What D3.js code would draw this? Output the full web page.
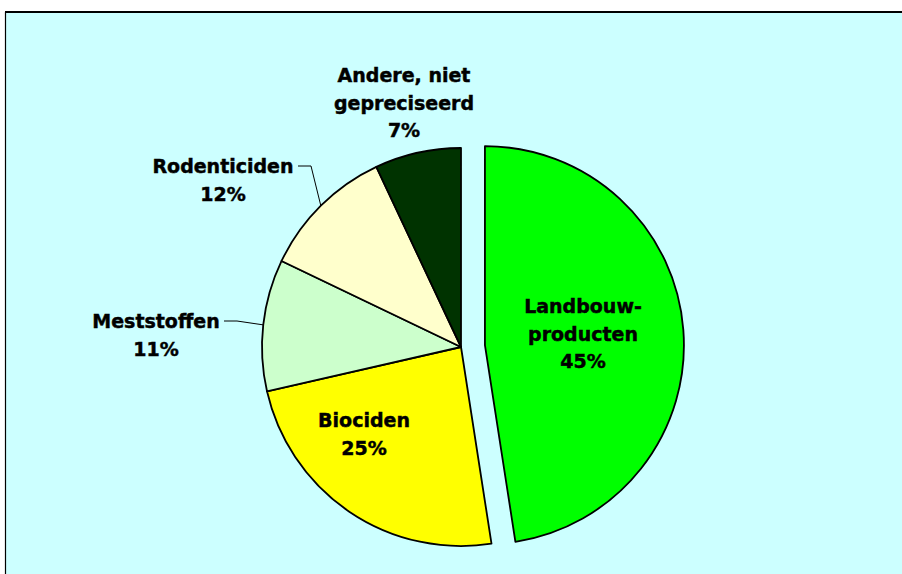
<!DOCTYPE html>
<html>
<head>
<meta charset="utf-8">
<script src="https://cdn.jsdelivr.net/npm/d3@7"></script>
<style>
  body { margin: 0; background: #ffffff; }
  svg { display: block; }
  .lbl { font-family: "DejaVu Sans", Verdana, sans-serif; font-weight: bold; font-size: 19px; fill: #000; stroke: #000; stroke-width: 0.45px; }
</style>
</head>
<body>
<div id="chart"></div>
<script>
var categories = ["Landbouwproducten", "Biociden", "Meststoffen", "Rodenticiden", "Andere, niet gepreciseerd"];
var labelLines = [["Landbouw-", "producten"], ["Biociden"], ["Meststoffen"], ["Rodenticiden"], ["Andere, niet", "gepreciseerd"]];
var percentLabels = ["45%", "25%", "11%", "12%", "7%"];
var shares = [47.6, 23.9, 10.7, 10.9, 7.0];
var colors = ["#00ff00", "#ffff00", "#ccffcc", "#ffffcc", "#003300"];

var width = 902, height = 574,
    cx = 461, cy = 347, radius = 199,
    explode = 24, lineGap = 27.5;

// label block placement, relative to the pie centre (x = centre of text, y = first baseline)
var labelPos = [
  {x: 122, y: -34, leader: false},
  {x: -97, y: 80, leader: false},
  {x: -305, y: -19, leader: true, hx: [-237, -224]},
  {x: -238, y: -174, leader: true, hx: [-163, -150]},
  {x: -57, y: -265, leader: false}
];

var svg = d3.select("#chart").append("svg")
    .attr("width", width)
    .attr("height", height);

// plot area
svg.append("rect")
    .attr("x", 5.5).attr("y", 12)
    .attr("width", width + 20).attr("height", height + 20)
    .attr("fill", "#ccffff");
svg.append("line")
    .attr("x1", 5.5).attr("x2", 5.5).attr("y1", 12).attr("y2", height)
    .attr("stroke", "#000").attr("stroke-width", 1.2);
svg.append("line")
    .attr("x1", 5).attr("x2", width).attr("y1", 12).attr("y2", 12)
    .attr("stroke", "#000").attr("stroke-width", 2);

var pie = d3.pie().sort(null).value(function (d) { return d; });
var arcs = pie(shares);
var arc = d3.arc().innerRadius(0).outerRadius(radius);

var g = svg.append("g").attr("transform", "translate(" + cx + "," + cy + ")");

g.selectAll("path.slice")
    .data(arcs)
    .enter()
    .append("path")
    .attr("class", "slice")
    .attr("d", arc)
    .attr("fill", function (d, i) { return colors[i]; })
    .attr("stroke", "#000")
    .attr("stroke-width", 1.8)
    .attr("stroke-linejoin", "round")
    .attr("transform", function (d, i) {
      if (i !== 0) return null;
      var mid = (d.startAngle + d.endAngle) / 2;
      return "translate(" + (Math.sin(mid) * explode) + "," + (-Math.cos(mid) * explode) + ")";
    });

// leader lines to the rim at each slice's mid angle
arcs.forEach(function (d, i) {
  var p = labelPos[i];
  if (!p.leader) return;
  var mid = (d.startAngle + d.endAngle) / 2;
  var ex = Math.sin(mid) * radius, ey = -Math.cos(mid) * radius;
  var ly = p.y - 7;
  g.append("polyline")
      .attr("points", [[p.hx[0], ly], [p.hx[1], ly], [ex, ey]].map(function (q) { return q.join(","); }).join(" "))
      .attr("fill", "none")
      .attr("stroke", "#000")
      .attr("stroke-width", 1);
});

// labels
arcs.forEach(function (d, i) {
  var p = labelPos[i];
  var lines = labelLines[i].concat([percentLabels[i]]);
  var t = g.append("text")
      .attr("class", "lbl")
      .attr("text-anchor", "middle");
  lines.forEach(function (s, k) {
    t.append("tspan")
        .attr("x", p.x)
        .attr("y", p.y + k * lineGap)
        .text(s);
  });
});
</script>
</body>
</html>
